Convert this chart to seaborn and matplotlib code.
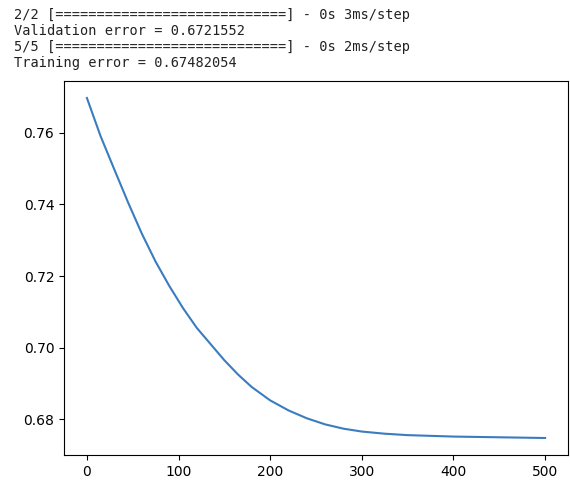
import matplotlib
matplotlib.use('Agg')
import matplotlib.pyplot as plt
import seaborn as sns
import pandas as pd

# Values
epochs = [0, 15, 30, 45, 60, 75, 90, 105, 120, 135, 150, 165, 180,
          200, 220, 240, 260, 280, 300, 325, 350, 375, 400, 450, 500]
errors = [0.7697, 0.7590, 0.7497, 0.7405, 0.7318, 0.7240, 0.7172, 0.7110, 0.7055,
          0.7010, 0.6965, 0.6925, 0.6890, 0.6853, 0.6825, 0.6803, 0.6786, 0.6774,
          0.6766, 0.6760, 0.6756, 0.6754, 0.6752, 0.6750, 0.6748]

log_lines = [
    "2/2 [" + "=" * 28 + "] - 0s 3ms/step",
    "Validation error = 0.6721552",
    "5/5 [" + "=" * 28 + "] - 0s 2ms/step",
    "Training error = 0.67482054",
]

df = pd.DataFrame({'epoch': epochs, 'error': errors})

fig = plt.figure(figsize=(5.7, 4.8), dpi=100)

# notebook output text above the plot
for i, line in enumerate(log_lines):
    fig.text(14 / 570, 1 - (15 + i * 16) / 480, line, family='DejaVu Sans Mono',
             fontsize=9.8, color='#222222', va='center', ha='left')

ax = fig.add_axes([64 / 570, 25 / 480, 504 / 570, 374 / 480])
sns.lineplot(data=df, x='epoch', y='error', ax=ax, color='#3a7cc0', linewidth=1.5)
ax.set_xlabel('')
ax.set_ylabel('')
ax.set_xticks([0, 100, 200, 300, 400, 500])
ax.set_yticks([0.68, 0.70, 0.72, 0.74, 0.76])
ax.set_yticklabels(['0.68', '0.70', '0.72', '0.74', '0.76'])

plt.savefig('out.png', dpi=100)
